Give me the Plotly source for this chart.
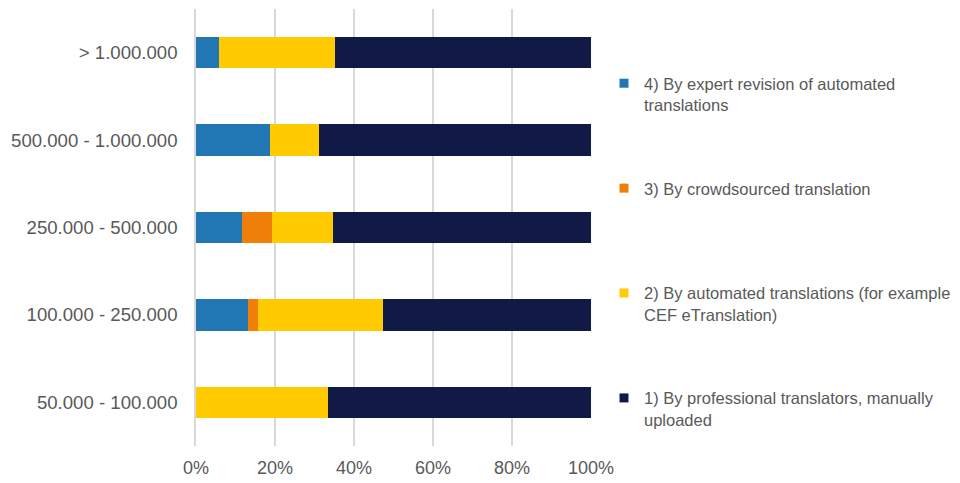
import plotly.graph_objects as go

categories = ["> 1.000.000", "500.000 - 1.000.000", "250.000 - 500.000",
              "100.000 - 250.000", "50.000 - 100.000"]

series_names = [
    "4) By expert revision of automated<br>translations",
    "3) By crowdsourced translation<br> ",
    "2) By automated translations (for example<br>CEF eTranslation)",
    "1) By professional translators, manually<br>uploaded",
]
expert_revision = [0.0588, 0.1875, 0.1154, 0.1316, 0.0]
crowdsourced = [0.0, 0.0, 0.0769, 0.0263, 0.0]
automated = [0.2941, 0.125, 0.1538, 0.3158, 0.3333]
professional = [0.6471, 0.6875, 0.6539, 0.5263, 0.6667]
colors = ["#2077B4", "#F07F0A", "#FFCB00", "#111A47"]

values = [expert_revision, crowdsourced, automated, professional]

fig = go.Figure()
for i, (name, vals, col) in enumerate(zip(series_names, values, colors)):
    fig.add_trace(go.Bar(
        y=categories, x=vals, name=name, orientation="h",
        marker=dict(color=col, line=dict(width=0)),
        legendgroup=f"g{i}", showlegend=False,
    ))
    # legend entry with a small square swatch
    fig.add_trace(go.Scatter(
        x=[None], y=[None], mode="markers", name=name,
        marker=dict(symbol="square", size=9, color=col),
        legendgroup=f"g{i}", showlegend=True, hoverinfo="skip",
    ))

# the page body adds an 8px offset, so the figure is 8px smaller
W, H = 952, 475
ML, MR, MT, MB = 188, 369, 1, 37
PW, PH = W - ML - MR, H - MT - MB
fig.update_layout(
    barmode="stack",
    bargap=0.64,
    width=W, height=H,
    margin=dict(l=ML, r=MR, t=MT, b=MB, autoexpand=False),
    paper_bgcolor="white", plot_bgcolor="white",
    font=dict(family="Liberation Sans, Arial, sans-serif", color="#595959"),
    showlegend=True,
    legend=dict(
        xref="paper", yref="paper",
        x=(596 - ML) / PW, xanchor="left",
        y=1 - (58 - MT) / PH, yanchor="top",
        traceorder="grouped", tracegroupgap=59, valign="top",
        font=dict(size=16.5, color="#595959"),
        itemwidth=30, bgcolor="rgba(0,0,0,0)",
    ),
    xaxis=dict(
        range=[0, 1], tickvals=[0, 0.2, 0.4, 0.6, 0.8, 1.0],
        tickformat=".0%", showgrid=True, gridcolor="#D9D9D9", gridwidth=1.5,
        zeroline=False, showline=False, automargin=False,
        tickfont=dict(size=18, color="#595959"), ticklabelstandoff=9,
    ),
    yaxis=dict(
        categoryorder="array", categoryarray=categories, autorange="reversed",
        showline=True, linecolor="#D9D9D9", linewidth=1.5, automargin=False,
        showgrid=False, tickfont=dict(size=18.6, color="#595959"),
        ticklabelstandoff=13,
    ),
)

fig.write_html("out.html")
